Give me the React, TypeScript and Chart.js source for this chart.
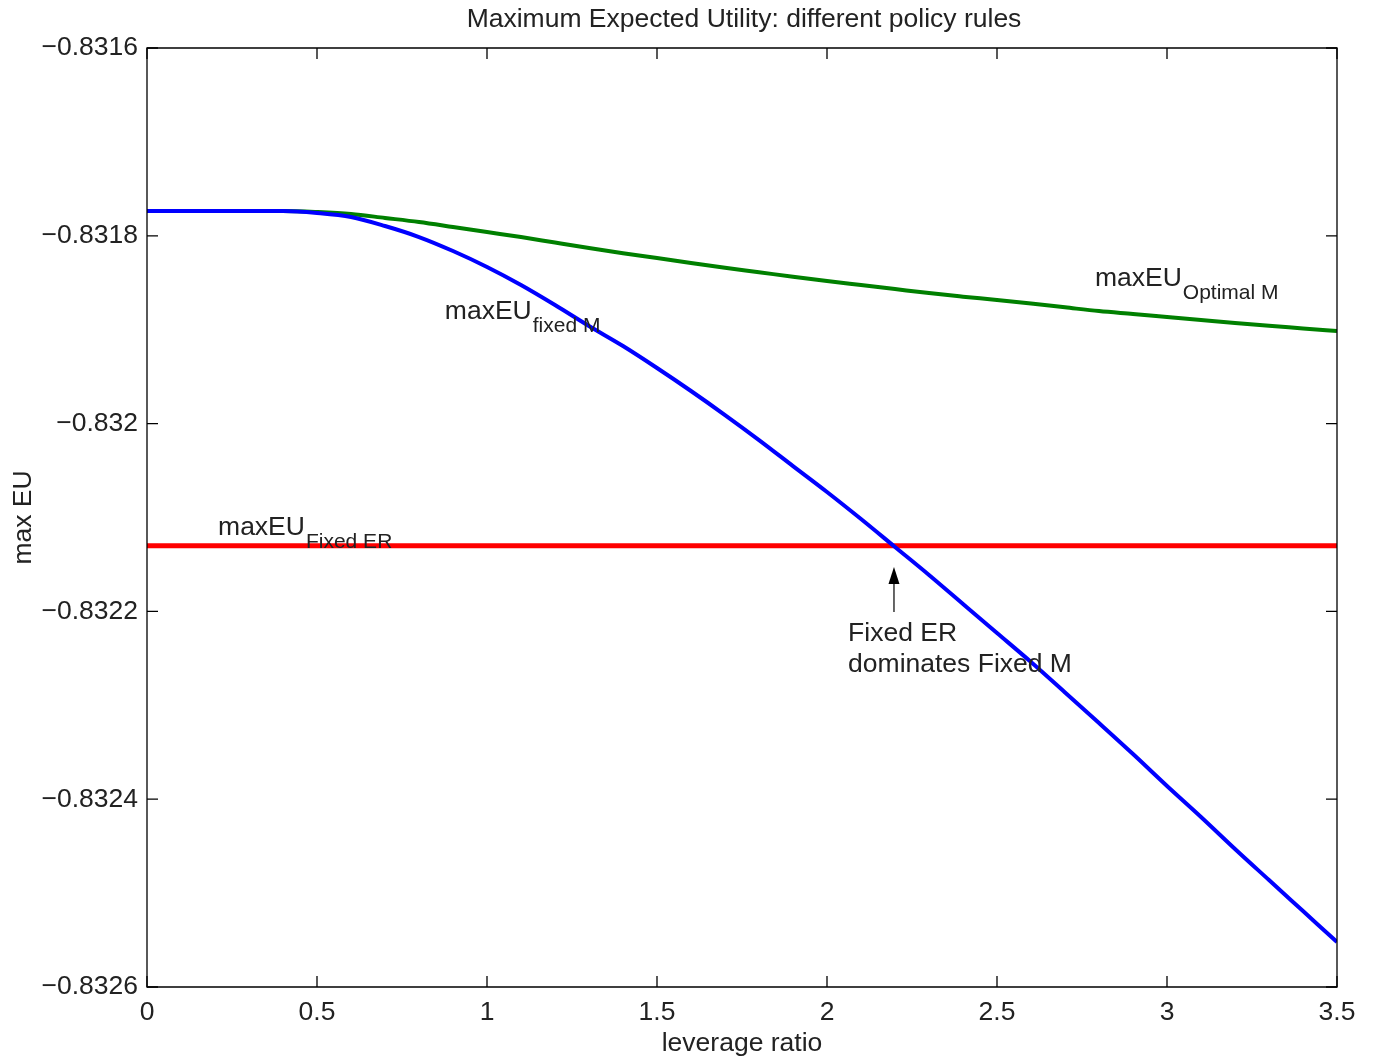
import React, { useEffect, useRef } from 'react';
import { Chart, registerables } from 'chart.js';

Chart.register(...registerables);

const leverage = [
  0, 0.1, 0.2, 0.3, 0.4, 0.5, 0.6, 0.7, 0.8, 0.9,
  1.0, 1.1, 1.2, 1.3, 1.4, 1.5, 1.6, 1.7, 1.8, 1.9,
  2.0, 2.1, 2.2, 2.3, 2.4, 2.5, 2.6, 2.7, 2.8, 2.9,
  3.0, 3.1, 3.2, 3.3, 3.4, 3.5,
];

const maxEUOptimalM = [
  -0.8317736, -0.8317736, -0.8317736, -0.8317736, -0.8317736, -0.8317747, -0.8317768, -0.831781, -0.8317853, -0.8317906,
  -0.831796, -0.8318013, -0.8318072, -0.831813, -0.8318185, -0.8318236, -0.831829, -0.8318341, -0.8318388, -0.8318436,
  -0.8318481, -0.8318524, -0.8318567, -0.831861, -0.8318648, -0.8318684, -0.8318722, -0.8318762, -0.8318802, -0.8318833,
  -0.8318865, -0.8318897, -0.8318929, -0.8318959, -0.8318986, -0.8319014,
];

const maxEUFixedM = [
  -0.8317736, -0.8317736, -0.8317736, -0.8317736, -0.8317736, -0.8317757, -0.83178, -0.8317896, -0.8318013, -0.8318162,
  -0.8318332, -0.8318524, -0.8318737, -0.8318961, -0.8319174, -0.8319408, -0.8319653, -0.8319909, -0.8320175, -0.8320452,
  -0.8320728, -0.8321016, -0.8321314, -0.8321612, -0.8321921, -0.832223, -0.8322539, -0.8322863, -0.8323189, -0.8323519,
  -0.8323859, -0.8324189, -0.832453, -0.8324861, -0.8325191, -0.8325521,
];

const fixedERLeverage = [0, 3.5];
const maxEUFixedER = [-0.83213, -0.83213];

const xTicks = [0, 0.5, 1, 1.5, 2, 2.5, 3, 3.5];
const xTickLabels = ['0', '0.5', '1', '1.5', '2', '2.5', '3', '3.5'];
const yTicks = [-0.8326, -0.8324, -0.8322, -0.832, -0.8318, -0.8316];
const yTickLabels = ['\u22120.8326', '\u22120.8324', '\u22120.8322', '\u22120.832', '\u22120.8318', '\u22120.8316'];

const titleText = 'Maximum Expected Utility: different policy rules';
const xTitle = 'leverage ratio';
const yTitle = 'max EU';

const labelMain = ['maxEU', 'maxEU', 'maxEU'];
const labelSub = ['fixed M', 'Fixed ER', 'Optimal M'];
const labelX = [0.876, 0.209, 2.788];
const labelY = [-0.8318886, -0.8321186, -0.8318535];

const noteLines = ['Fixed ER', 'dominates Fixed M'];
const noteX = 2.062;
const noteY = [-0.8322315, -0.8322645];
const arrowX = 2.197;
const arrowTipY = -0.8321527;
const arrowTailY = -0.8322006;

const FONT = 'Liberation Sans, Arial, Helvetica, sans-serif';
const TEXT = '#222222';
const FS = 26.5;

const overlayPlugin = {
  id: 'overlay',
  afterDatasetsDraw(chart: any) {
    const { ctx, chartArea } = chart;
    const xs = chart.scales.x;
    const ys = chart.scales.y;
    const { left, right, top, bottom } = chartArea;
    ctx.save();
    ctx.strokeStyle = '#000000';
    ctx.lineWidth = 1.3;
    ctx.beginPath();
    ctx.rect(left, top, right - left, bottom - top);
    ctx.stroke();
    const tl = 11;
    ctx.beginPath();
    xTicks.forEach((v) => {
      const px = xs.getPixelForValue(v);
      ctx.moveTo(px, bottom);
      ctx.lineTo(px, bottom - tl);
      ctx.moveTo(px, top);
      ctx.lineTo(px, top + tl);
    });
    yTicks.forEach((v) => {
      const py = ys.getPixelForValue(v);
      ctx.moveTo(left, py);
      ctx.lineTo(left + tl, py);
      ctx.moveTo(right, py);
      ctx.lineTo(right - tl, py);
    });
    ctx.stroke();

    ctx.fillStyle = TEXT;
    ctx.textBaseline = 'alphabetic';
    ctx.textAlign = 'left';
    labelMain.forEach((m, i) => {
      const px = xs.getPixelForValue(labelX[i]);
      const py = ys.getPixelForValue(labelY[i]);
      ctx.font = `${FS}px ${FONT}`;
      ctx.fillText(m, px, py);
      const w = ctx.measureText(m).width;
      ctx.font = `21px ${FONT}`;
      ctx.fillText(labelSub[i], px + w + 1, py + 13);
    });

    ctx.font = `${FS}px ${FONT}`;
    noteLines.forEach((t, i) => {
      ctx.fillText(t, xs.getPixelForValue(noteX), ys.getPixelForValue(noteY[i]));
    });

    const ax = xs.getPixelForValue(arrowX);
    const tipY = ys.getPixelForValue(arrowTipY);
    const tailY = ys.getPixelForValue(arrowTailY);
    ctx.strokeStyle = '#000000';
    ctx.lineWidth = 1.2;
    ctx.beginPath();
    ctx.moveTo(ax, tailY);
    ctx.lineTo(ax, tipY + 10);
    ctx.stroke();
    ctx.fillStyle = '#000000';
    ctx.beginPath();
    ctx.moveTo(ax, tipY);
    ctx.lineTo(ax - 5.5, tipY + 17);
    ctx.lineTo(ax + 5.5, tipY + 17);
    ctx.closePath();
    ctx.fill();

    ctx.fillStyle = TEXT;
    ctx.font = `${FS}px ${FONT}`;
    ctx.textAlign = 'center';
    ctx.fillText(titleText, (left + right) / 2 + 2, 27);
    ctx.restore();
  },
};

export default function App() {
  const canvasRef = useRef<HTMLCanvasElement | null>(null);

  useEffect(() => {
    document.body.style.margin = '0';
    const canvas = canvasRef.current;
    if (!canvas) return;
    const tickFont = { family: FONT, size: FS };
    const chart = new Chart(canvas, {
      type: 'line',
      data: {
        datasets: [
          {
            label: 'maxEU fixed M',
            data: leverage.map((x, i) => ({ x, y: maxEUFixedM[i] })),
            borderColor: '#0000FF',
            borderWidth: 4,
            pointRadius: 0,
            cubicInterpolationMode: 'monotone',
            fill: false,
          },
          {
            label: 'maxEU Optimal M',
            data: leverage.map((x, i) => ({ x, y: maxEUOptimalM[i] })),
            borderColor: '#008000',
            borderWidth: 4,
            pointRadius: 0,
            cubicInterpolationMode: 'monotone',
            fill: false,
          },
          {
            label: 'maxEU Fixed ER',
            data: fixedERLeverage.map((x, i) => ({ x, y: maxEUFixedER[i] })),
            borderColor: '#FF0000',
            borderWidth: 5,
            pointRadius: 0,
            fill: false,
          },
        ],
      },
      options: {
        animation: false,
        responsive: true,
        maintainAspectRatio: false,
        devicePixelRatio: 1,
        layout: { padding: { top: 48, right: 40, left: 0, bottom: 0 } },
        plugins: {
          legend: { display: false },
          title: { display: false },
          tooltip: { enabled: false },
        },
        scales: {
          x: {
            type: 'linear',
            min: 0,
            max: 3.5,
            afterBuildTicks: (s: any) => {
              s.ticks = xTicks.map((v) => ({ value: v }));
            },
            afterFit: (s: any) => {
              s.height = 75;
            },
            grid: { display: false, drawTicks: false },
            border: { display: false },
            ticks: {
              font: tickFont,
              color: TEXT,
              padding: 10,
              maxRotation: 0,
              autoSkip: false,
              callback: (_v: any, i: number) => xTickLabels[i],
            },
            title: {
              display: true,
              text: xTitle,
              font: tickFont,
              color: TEXT,
              padding: { top: 0, bottom: 2 },
            },
          },
          y: {
            type: 'linear',
            min: -0.8326,
            max: -0.8316,
            afterBuildTicks: (s: any) => {
              s.ticks = yTicks.map((v) => ({ value: v }));
            },
            afterFit: (s: any) => {
              s.width = 147;
            },
            grid: { display: false, drawTicks: false },
            border: { display: false },
            ticks: {
              font: tickFont,
              color: TEXT,
              padding: 9,
              autoSkip: false,
              callback: (_v: any, i: number) => yTickLabels[i],
            },
            title: {
              display: true,
              text: yTitle,
              font: tickFont,
              color: TEXT,
              padding: { top: 8, bottom: 0 },
            },
          },
        },
      },
      plugins: [overlayPlugin],
    } as any);
    return () => chart.destroy();
  }, []);

  return (
    <div style={{ position: 'absolute', left: 0, top: 0, width: 1377, height: 1062 }}>
      <canvas ref={canvasRef} />
    </div>
  );
}
